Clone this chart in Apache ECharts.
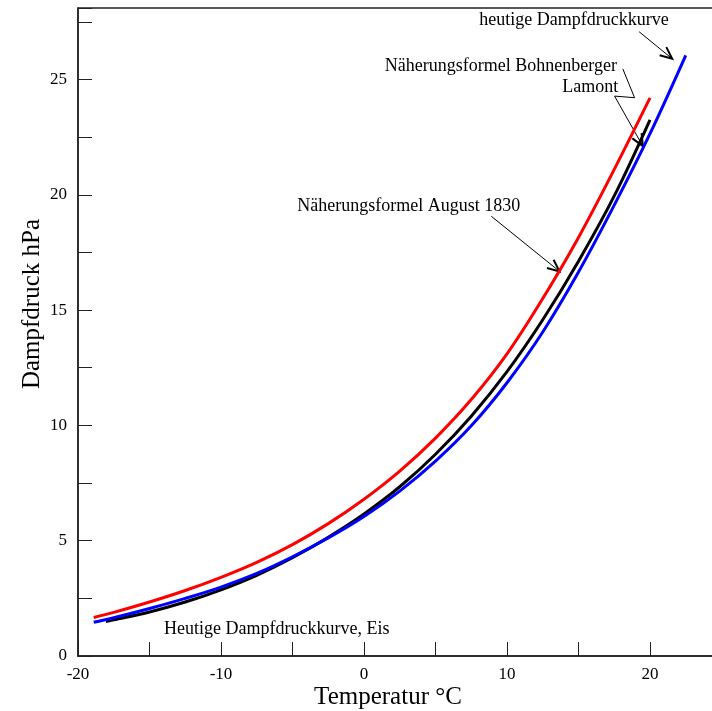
<!DOCTYPE html>
<html><head><meta charset="utf-8">
<script src="https://cdn.jsdelivr.net/npm/echarts@6/dist/echarts.min.js"></script>
<style>html,body{margin:0;padding:0;background:#fff}#c{width:712px;height:711px}</style>
</head><body><div id="c"></div>
<script>
// Data
const augustT = [-18.9,-17.5,-15,-12.5,-10,-7.5,-5,-2.5,0,2.5,5,7.5,10,12.5,15,17.5,20];
const augustP = [1.67,1.89,2.34,2.84,3.41,4.06,4.83,5.74,6.80,8.02,9.45,11.12,13.1,15.5,18.15,21.1,24.2];
const lamontT = [-18.05,-17.5,-15,-12.5,-10,-7.5,-5,-2.5,0,2.5,5,7.5,10,12.5,15,17.5,20];
const lamontP = [1.50,1.57,1.91,2.34,2.87,3.50,4.26,5.15,6.16,7.34,8.75,10.40,12.33,14.58,17.12,19.95,23.25];
const todayT = [-18.9,-17.5,-15,-12.5,-10,-7.5,-5,-2.5,0,2.5,5,7.5,10,12.5,15,17.5,20,22.5];
const todayP = [1.46,1.66,2.06,2.50,2.99,3.58,4.30,5.12,6.05,7.15,8.45,9.98,11.85,14.05,16.65,19.55,22.65,26.05];
const xTickLabels = [-20,-10,0,10,20];
const yTickLabels = [0,5,10,15,20,25];

const FONT = '"Liberation Serif","DejaVu Serif",serif';
const zip = (a,b) => a.map((v,i)=>[v,b[i]]);

const chart = echarts.init(document.getElementById('c'), null, {renderer:'canvas'});
const line = (name,color,T,P,z) => ({
  name, type:'line', data: zip(T,P), smooth:0.35, showSymbol:false, symbol:'none', z,
  lineStyle:{color, width:3}, itemStyle:{color}, animation:false
});
chart.setOption({
  animation:false,
  backgroundColor:'#fff',
  grid:{left:78, top:8, width:643.5, height:648, outerBoundsMode:'none', containLabel:false,
    show:true, borderColor:'#222', borderWidth:1.5, backgroundColor:'transparent'},
  xAxis:{type:'value', min:-20, max:25, interval:5,
    axisLine:{onZero:false, lineStyle:{color:'#222', width:1.5}},
    axisTick:{inside:true, length:14, lineStyle:{color:'#222', width:1}},
    splitLine:{show:false},
    axisLabel:{margin:10, color:'#000', fontFamily:FONT, fontSize:17,
      formatter:v => xTickLabels.includes(v) ? String(v) : ''}
  },
  yAxis:{type:'value', min:0, max:28.1, interval:2.5,
    axisLine:{onZero:false, lineStyle:{color:'#222', width:1.5}},
    axisTick:{inside:true, length:14, lineStyle:{color:'#222', width:1}},
    splitLine:{show:false},
    axisLabel:{margin:11, color:'#000', fontFamily:FONT, fontSize:17,
      formatter:v => yTickLabels.includes(v) ? String(v) : ''}
  },
  series:[
    line('Näherungsformel August 1830','#ff0000',augustT,augustP,3),
    line('Näherungsformel Bohnenberger / Lamont','#000000',lamontT,lamontP,4),
    line('heutige Dampfdruckkurve','#0000ff',todayT,todayP,5)
  ]
});

// Annotations in data coordinates [T, P]
const labels = [
  {text:'heutige Dampfdruckkurve', at:[14.69,27.56]},
  {text:'Näherungsformel Bohnenberger', at:[9.57,25.58]},
  {text:'Lamont', at:[15.82,24.65]},
  {text:'Näherungsformel August 1830', at:[3.13,19.50]},
  {text:'Heutige Dampfdruckkurve, Eis', at:[-6.10,1.17]}
];
const leaders = [
  [[19.24,27.07],[21.55,25.9]],
  [[18.10,25.46],[18.92,24.21],[17.52,24.28],[19.50,22.11]],
  [[8.90,19.07],[13.67,16.68]]
];
const px = p => chart.convertToPixel({gridIndex:0}, p);
const g = [];
labels.forEach(l => {
  const [x,y] = px(l.at);
  g.push({type:'text', x, y, style:{text:l.text, fill:'#000', font:'18px '+FONT, textAlign:'center', textVerticalAlign:'middle'}});
});
leaders.forEach(pts => {
  const pp = pts.map(px);
  g.push({type:'polyline', shape:{points:pp}, style:{stroke:'#000', lineWidth:1, fill:null}});
  const tip = pp[pp.length-1], from = pp[pp.length-2];
  const a = Math.atan2(tip[1]-from[1], tip[0]-from[0]);
  const L = 13, ang = 0.42;
  const p1 = [tip[0]-L*Math.cos(a-ang), tip[1]-L*Math.sin(a-ang)];
  const p2 = [tip[0]-L*Math.cos(a+ang), tip[1]-L*Math.sin(a+ang)];
  g.push({type:'polyline', shape:{points:[p1,tip,p2]}, style:{stroke:'#000', lineWidth:2, fill:null}});
});
// Axis titles
g.push({type:'text', x:388, y:697, style:{text:'Temperatur °C', fill:'#000', font:'25px '+FONT, textAlign:'center', textVerticalAlign:'middle'}});
g.push({type:'text', x:32, y:304, rotation:Math.PI/2, style:{text:'Dampfdruck hPa', fill:'#000', font:'25px '+FONT, textAlign:'center', textVerticalAlign:'middle'}});
chart.setOption({graphic:g});
</script>
</body></html>
